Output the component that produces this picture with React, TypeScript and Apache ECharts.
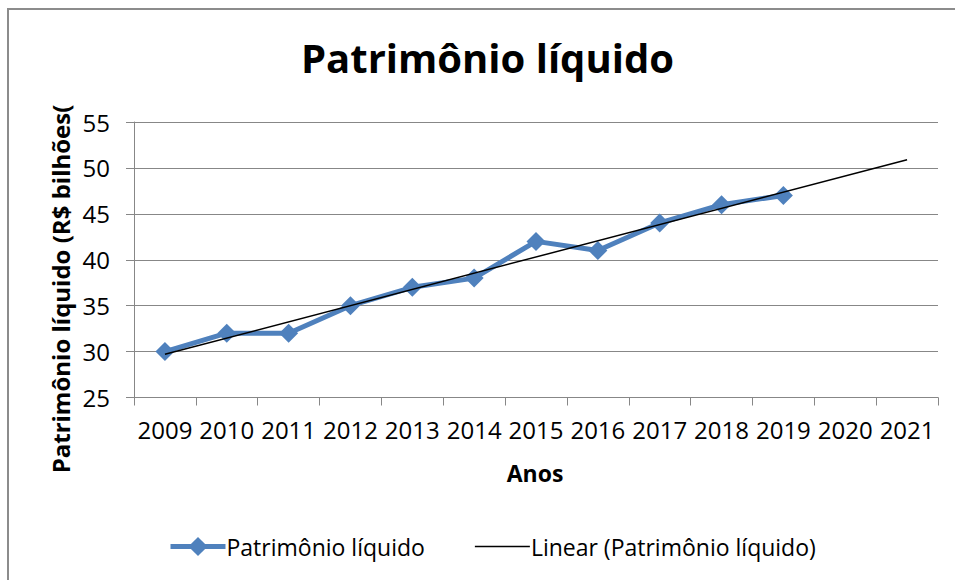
import React, { useEffect, useRef } from "react";
import * as echarts from "echarts";

const categories = ["2009", "2010", "2011", "2012", "2013", "2014", "2015", "2016", "2017", "2018", "2019", "2020", "2021"];
const patrimonio = [30, 32, 32, 35, 37, 38, 42, 41, 44, 46, 47];
const trendStart = 29.7;
const trendEnd = 50.9;

const FONT = "Open Sans";

export default function App() {
  const ref = useRef<HTMLDivElement>(null);
  useEffect(() => {
    if (!ref.current) return;
    const chart = echarts.init(ref.current, null, { renderer: "svg" });
    const trendData = [
      [categories[0], trendStart],
      [categories[categories.length - 1], trendEnd],
    ];
    chart.setOption({
      animation: false,
      backgroundColor: "#ffffff",
      textStyle: { fontFamily: FONT },
      title: {
        text: "Patrimônio líquido",
        left: 296,
        top: 32,
        textStyle: { fontFamily: FONT, fontSize: 40, fontWeight: "bold", color: "#000" },
      },
      grid: { left: 134, top: 122, right: 17, bottom: 182.5, containLabel: false },
      xAxis: {
        type: "category",
        data: categories,
        boundaryGap: true,
        axisLine: { show: true, lineStyle: { color: "#878787", width: 1 } },
        axisTick: { show: true, interval: 0, length: 8, lineStyle: { color: "#878787" } },
        axisLabel: { interval: 0, color: "#000", fontFamily: FONT, fontSize: 24, margin: 20 },
        splitLine: { show: false },
      },
      yAxis: {
        type: "value",
        min: 25,
        max: 55,
        interval: 5,
        axisLine: { show: true, lineStyle: { color: "#878787", width: 1 } },
        axisTick: { show: true, length: 8, lineStyle: { color: "#878787" } },
        axisLabel: { color: "#000", fontFamily: FONT, fontSize: 24, margin: 24 },
        splitLine: { show: true, lineStyle: { color: "#878787", width: 1 } },
      },
      legend: {
        left: 163,
        top: 530,
        itemWidth: 55,
        itemHeight: 24,
        itemGap: 50,
        textStyle: { fontFamily: FONT, fontSize: 23, color: "#000", padding: [0, 0, 0, -4] },
        data: [
          { name: "Patrimônio líquido", lineStyle: { width: 5 } },
          { name: "Linear (Patrimônio líquido)", icon: "path://M0,0H36V1H0Z", itemStyle: { color: "#000" } },
        ],
      },
      graphic: [
        {
          type: "rect",
          shape: { x: 8, y: 9, width: 2000, height: 2000 },
          style: { fill: "none", stroke: "#8c8c8c", lineWidth: 2 },
          silent: true,
          z: -1,
        },
        {
          type: "text",
          x: 60,
          y: 289,
          rotation: Math.PI / 2,
          style: {
            text: "Patrimônio líquido (R$ bilhões(",
            fontFamily: FONT,
            fontSize: 24,
            fontWeight: "bold",
            fill: "#000",
            align: "center",
            verticalAlign: "middle",
          },
        },
        {
          type: "text",
          x: 535,
          y: 473,
          style: {
            text: "Anos",
            fontFamily: FONT,
            fontSize: 23,
            fontWeight: "bold",
            fill: "#000",
            align: "center",
            verticalAlign: "middle",
          },
        },
      ],
      series: [
        {
          name: "Patrimônio líquido",
          type: "line",
          data: patrimonio,
          symbol: "diamond",
          symbolSize: 19,
          lineStyle: { color: "#4F81BD", width: 5 },
          itemStyle: { color: "#4F81BD" },
          z: 2,
        },
        {
          name: "Linear (Patrimônio líquido)",
          type: "line",
          data: trendData,
          symbol: "none",
          lineStyle: { color: "#000", width: 1.5 },
          itemStyle: { color: "#000" },
          z: 3,
        },
      ],
    });
    return () => chart.dispose();
  }, []);
  return (
    <div
      ref={ref}
      style={{ position: "fixed", left: 0, top: 0, width: 955, height: 580 }}
    />
  );
}
